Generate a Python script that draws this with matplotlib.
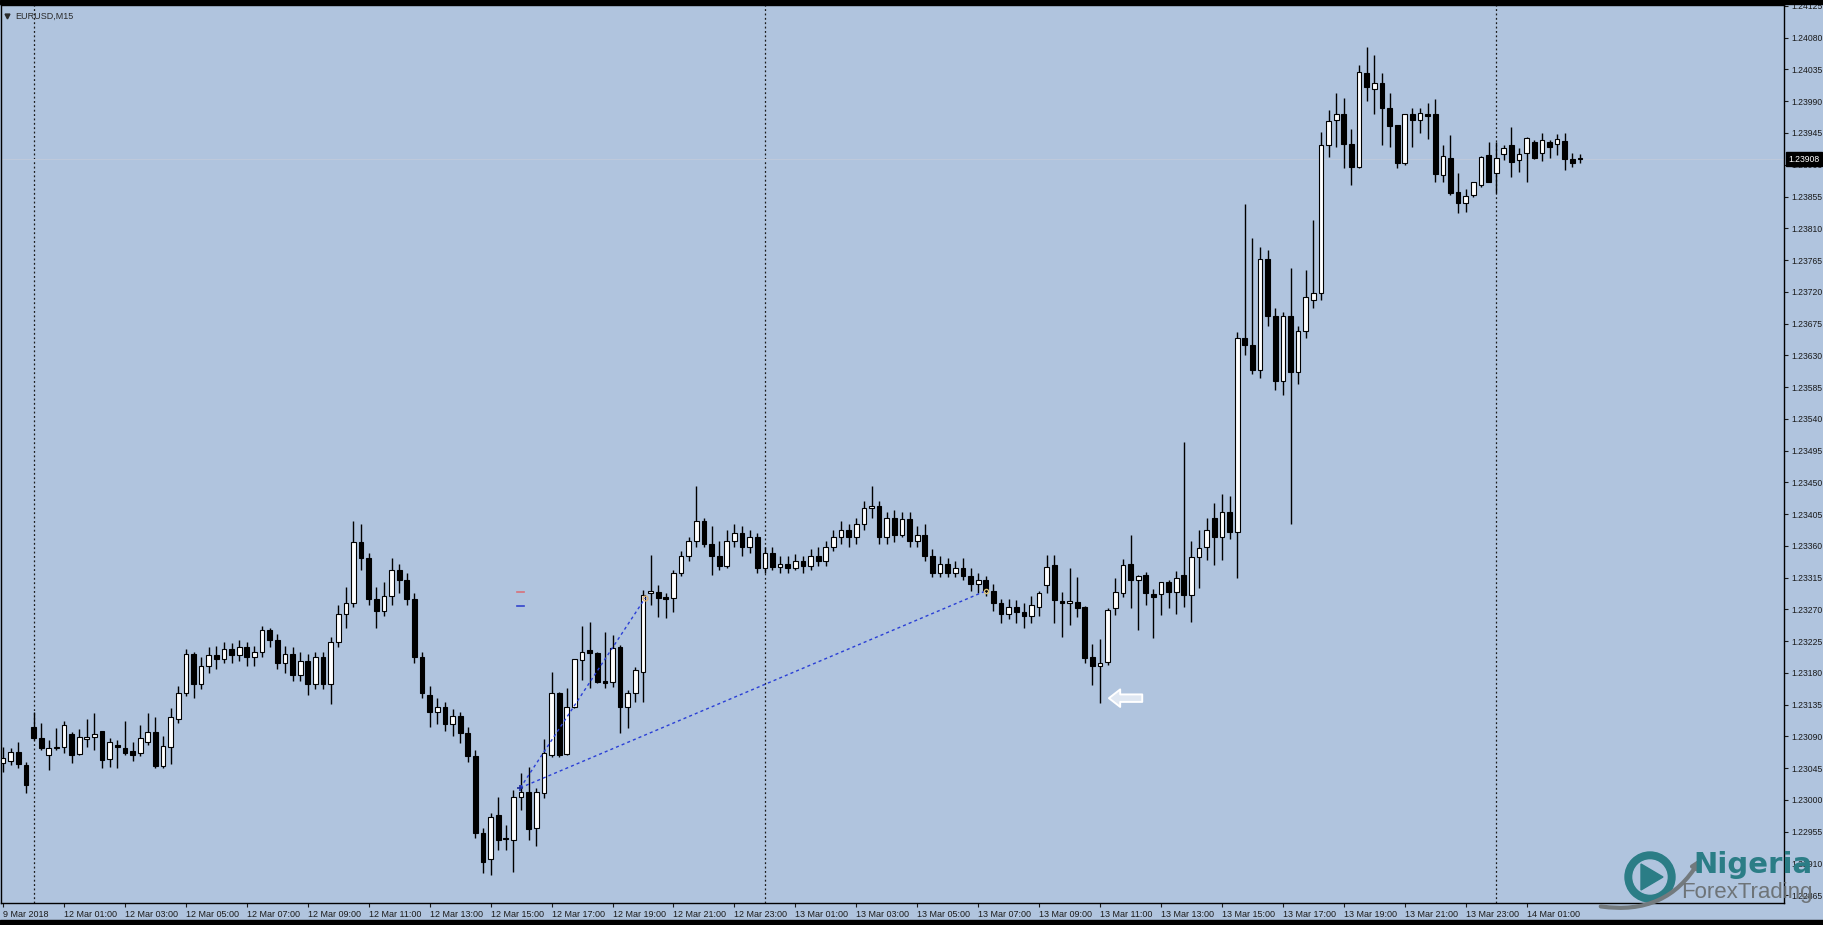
import numpy as np
import matplotlib
matplotlib.use("Agg")
import matplotlib.pyplot as plt
import matplotlib.transforms as mtransforms
from matplotlib.patches import Rectangle, Ellipse, Polygon, FancyArrowPatch

# EURUSD M15 candles, first bar = 9 Mar 23:00 (index -4), 12 Mar 00:00 = index 0
first_bar = -4
opens = [
    1.23052, 1.23055, 1.23068, 1.23049, 1.23103, 1.23088, 1.23063, 1.23073, 1.23075, 1.23093,
    1.23065, 1.23086, 1.23089, 1.23097, 1.23058, 1.23078, 1.23073, 1.23069, 1.23066, 1.23082,
    1.23096, 1.23048, 1.23075, 1.23114, 1.23152, 1.23207, 1.23164, 1.23190, 1.23205, 1.23200,
    1.23213, 1.23205, 1.23217, 1.23202, 1.23210, 1.23240, 1.23227, 1.23194, 1.23207, 1.23177,
    1.23197, 1.23164, 1.23202, 1.23164, 1.23223, 1.23263, 1.23279, 1.23365, 1.23342, 1.23284,
    1.23268, 1.23289, 1.23326, 1.23312, 1.23284, 1.23202, 1.23149, 1.23124, 1.23131, 1.23108,
    1.23119, 1.23095, 1.23062, 1.22953, 1.22916, 1.22978, 1.22946, 1.22943, 1.23004, 1.23011,
    1.22960, 1.23010, 1.23064, 1.23151, 1.23065, 1.23132, 1.23198, 1.23212, 1.23208, 1.23168,
    1.23167, 1.23217, 1.23132, 1.23151, 1.23181, 1.23293, 1.23295, 1.23288, 1.23286, 1.23321,
    1.23345, 1.23367, 1.23395, 1.23362, 1.23345, 1.23332, 1.23367, 1.23378, 1.23358, 1.23372,
    1.23329, 1.23350, 1.23330, 1.23334, 1.23329, 1.23339, 1.23332, 1.23345, 1.23339, 1.23358,
    1.23372, 1.23382, 1.23372, 1.23391, 1.23413, 1.23416, 1.23372, 1.23400, 1.23375, 1.23398,
    1.23367, 1.23375, 1.23345, 1.23322, 1.23334, 1.23322, 1.23329, 1.23317, 1.23306, 1.23312,
    1.23296, 1.23279, 1.23263, 1.23273, 1.23266, 1.23260, 1.23273, 1.23304, 1.23333, 1.23282,
    1.23279, 1.23280, 1.23273, 1.23202, 1.23190, 1.23195, 1.23272, 1.23293, 1.23334, 1.23312,
    1.23319, 1.23292, 1.23292, 1.23309, 1.23295, 1.23319, 1.23290, 1.23344, 1.23358, 1.23400,
    1.23372, 1.23408, 1.23380, 1.23655, 1.23645, 1.23609, 1.23767, 1.23685, 1.23593, 1.23685,
    1.23606, 1.23664, 1.23708, 1.23718, 1.23928, 1.23963, 1.23972, 1.23929, 1.23897, 1.24030,
    1.24007, 1.24016, 1.23980, 1.23956, 1.23902, 1.23972, 1.23963, 1.23972, 1.23972, 1.23886,
    1.23910, 1.23861, 1.23846, 1.23857, 1.23871, 1.23914, 1.23888, 1.23915, 1.23928, 1.23907,
    1.23917, 1.23932, 1.23917, 1.23932, 1.23929, 1.23934, 1.23908, 1.23910,
]
highs = [
    1.23075, 1.23073, 1.23082, 1.23054, 1.23124, 1.23109, 1.23085, 1.23102, 1.23112, 1.23096,
    1.23100, 1.23114, 1.23123, 1.23097, 1.23088, 1.23085, 1.23112, 1.23082, 1.23106, 1.23123,
    1.23117, 1.23090, 1.23130, 1.23161, 1.23213, 1.23210, 1.23202, 1.23217, 1.23218, 1.23223,
    1.23222, 1.23227, 1.23223, 1.23218, 1.23246, 1.23243, 1.23235, 1.23218, 1.23217, 1.23210,
    1.23207, 1.23210, 1.23210, 1.23230, 1.23276, 1.23301, 1.23395, 1.23391, 1.23350, 1.23301,
    1.23309, 1.23342, 1.23334, 1.23322, 1.23293, 1.23210, 1.23161, 1.23144, 1.23139, 1.23128,
    1.23124, 1.23103, 1.23070, 1.22960, 1.22981, 1.23004, 1.22964, 1.23014, 1.23038, 1.23046,
    1.23017, 1.23086, 1.23181, 1.23153, 1.23158, 1.23200, 1.23246, 1.23252, 1.23210, 1.23238,
    1.23234, 1.23219, 1.23156, 1.23188, 1.23297, 1.23347, 1.23304, 1.23293, 1.23326, 1.23352,
    1.23372, 1.23444, 1.23400, 1.23388, 1.23367, 1.23383, 1.23391, 1.23388, 1.23383, 1.23378,
    1.23358, 1.23358, 1.23345, 1.23345, 1.23349, 1.23345, 1.23355, 1.23358, 1.23367, 1.23383,
    1.23395, 1.23391, 1.23400, 1.23424, 1.23444, 1.23424, 1.23408, 1.23411, 1.23408, 1.23408,
    1.23388, 1.23391, 1.23355, 1.23345, 1.23342, 1.23339, 1.23342, 1.23329, 1.23322, 1.23317,
    1.23306, 1.23284, 1.23284, 1.23283, 1.23279, 1.23289, 1.23296, 1.23347, 1.23347, 1.23295,
    1.23329, 1.23316, 1.23274, 1.23221, 1.23228, 1.23272, 1.23314, 1.23341, 1.23375, 1.23318,
    1.23323, 1.23299, 1.23309, 1.23312, 1.23324, 1.23507, 1.23367, 1.23383, 1.23400, 1.23421,
    1.23433, 1.23430, 1.23663, 1.23845, 1.23796, 1.23784, 1.23779, 1.23697, 1.23692, 1.23754,
    1.23672, 1.23751, 1.23822, 1.23946, 1.23978, 1.24002, 1.23995, 1.23951, 1.24041, 1.24067,
    1.24056, 1.24030, 1.24002, 1.23956, 1.23972, 1.23980, 1.23980, 1.23988, 1.23993, 1.23928,
    1.23942, 1.23888, 1.23866, 1.23876, 1.23912, 1.23932, 1.23932, 1.23928, 1.23954, 1.23924,
    1.23939, 1.23935, 1.23945, 1.23935, 1.23944, 1.23945, 1.23917, 1.23915,
]
lows = [
    1.23039, 1.23049, 1.23045, 1.23010, 1.23085, 1.23071, 1.23042, 1.23071, 1.23066, 1.23052,
    1.23063, 1.23075, 1.23071, 1.23045, 1.23046, 1.23045, 1.23063, 1.23055, 1.23062, 1.23078,
    1.23045, 1.23045, 1.23051, 1.23109, 1.23147, 1.23144, 1.23157, 1.23180, 1.23185, 1.23194,
    1.23194, 1.23197, 1.23190, 1.23190, 1.23202, 1.23217, 1.23185, 1.23180, 1.23169, 1.23169,
    1.23149, 1.23157, 1.23157, 1.23136, 1.23217, 1.23243, 1.23273, 1.23326, 1.23276, 1.23243,
    1.23260, 1.23276, 1.23293, 1.23276, 1.23194, 1.23144, 1.23103, 1.23108, 1.23098, 1.23091,
    1.23081, 1.23053, 1.22946, 1.22896, 1.22893, 1.22929, 1.22929, 1.22898, 1.22985, 1.22943,
    1.22934, 1.23003, 1.23061, 1.23061, 1.23064, 1.23130, 1.23170, 1.23158, 1.23166, 1.23158,
    1.23160, 1.23095, 1.23102, 1.23139, 1.23139, 1.23276, 1.23259, 1.23258, 1.23266, 1.23317,
    1.23339, 1.23358, 1.23358, 1.23319, 1.23326, 1.23329, 1.23358, 1.23345, 1.23350, 1.23322,
    1.23322, 1.23326, 1.23322, 1.23322, 1.23326, 1.23322, 1.23326, 1.23332, 1.23332, 1.23352,
    1.23362, 1.23358, 1.23362, 1.23382, 1.23400, 1.23362, 1.23362, 1.23365, 1.23372, 1.23358,
    1.23358, 1.23339, 1.23316, 1.23316, 1.23316, 1.23316, 1.23312, 1.23296, 1.23293, 1.23289,
    1.23268, 1.23251, 1.23256, 1.23251, 1.23243, 1.23251, 1.23260, 1.23293, 1.23251, 1.23231,
    1.23248, 1.23259, 1.23194, 1.23163, 1.23137, 1.23191, 1.23262, 1.23287, 1.23272, 1.23241,
    1.23276, 1.23229, 1.23262, 1.23272, 1.23263, 1.23273, 1.23252, 1.23300, 1.23340, 1.23333,
    1.23340, 1.23370, 1.23314, 1.23631, 1.23603, 1.23598, 1.23672, 1.23581, 1.23573, 1.23391,
    1.23589, 1.23655, 1.23697, 1.23708, 1.23911, 1.23925, 1.23895, 1.23871, 1.23895, 1.23990,
    1.23972, 1.23928, 1.23925, 1.23895, 1.23900, 1.23925, 1.23945, 1.23937, 1.23876, 1.23876,
    1.23857, 1.23832, 1.23833, 1.23854, 1.23869, 1.23876, 1.23860, 1.23907, 1.23883, 1.23890,
    1.23876, 1.23908, 1.23905, 1.23910, 1.23914, 1.23893, 1.23897, 1.23903,
]
closes = [
    1.23059, 1.23068, 1.23051, 1.23021, 1.23088, 1.23073, 1.23073, 1.23075, 1.23106, 1.23063,
    1.23089, 1.23089, 1.23093, 1.23056, 1.23082, 1.23075, 1.23066, 1.23063, 1.23088, 1.23096,
    1.23048, 1.23076, 1.23117, 1.23152, 1.23207, 1.23164, 1.23190, 1.23205, 1.23200, 1.23213,
    1.23205, 1.23217, 1.23202, 1.23210, 1.23240, 1.23227, 1.23194, 1.23207, 1.23177, 1.23197,
    1.23164, 1.23202, 1.23164, 1.23223, 1.23263, 1.23279, 1.23365, 1.23342, 1.23284, 1.23268,
    1.23289, 1.23326, 1.23312, 1.23284, 1.23202, 1.23152, 1.23124, 1.23131, 1.23108, 1.23119,
    1.23095, 1.23062, 1.22953, 1.22912, 1.22976, 1.22943, 1.22944, 1.23004, 1.23011, 1.22959,
    1.23011, 1.23066, 1.23151, 1.23064, 1.23132, 1.23200, 1.23209, 1.23208, 1.23167, 1.23166,
    1.23215, 1.23132, 1.23151, 1.23184, 1.23290, 1.23296, 1.23286, 1.23285, 1.23321, 1.23345,
    1.23367, 1.23395, 1.23362, 1.23345, 1.23332, 1.23367, 1.23378, 1.23358, 1.23372, 1.23329,
    1.23350, 1.23330, 1.23334, 1.23329, 1.23339, 1.23332, 1.23345, 1.23339, 1.23358, 1.23372,
    1.23382, 1.23372, 1.23391, 1.23413, 1.23416, 1.23372, 1.23400, 1.23375, 1.23398, 1.23367,
    1.23375, 1.23345, 1.23322, 1.23334, 1.23322, 1.23329, 1.23317, 1.23306, 1.23312, 1.23296,
    1.23279, 1.23263, 1.23273, 1.23266, 1.23260, 1.23276, 1.23293, 1.23330, 1.23283, 1.23279,
    1.23282, 1.23272, 1.23201, 1.23190, 1.23194, 1.23269, 1.23295, 1.23333, 1.23312, 1.23317,
    1.23293, 1.23287, 1.23309, 1.23295, 1.23314, 1.23290, 1.23344, 1.23357, 1.23383, 1.23372,
    1.23408, 1.23380, 1.23655, 1.23645, 1.23609, 1.23767, 1.23685, 1.23593, 1.23685, 1.23606,
    1.23664, 1.23713, 1.23718, 1.23928, 1.23962, 1.23972, 1.23929, 1.23897, 1.24032, 1.24010,
    1.24016, 1.23980, 1.23955, 1.23903, 1.23972, 1.23963, 1.23973, 1.23969, 1.23887, 1.23912,
    1.23860, 1.23846, 1.23856, 1.23876, 1.23911, 1.23876, 1.23910, 1.23924, 1.23904, 1.23915,
    1.23938, 1.23910, 1.23935, 1.23925, 1.23937, 1.23908, 1.23903, 1.23908,
]

xtick_bars = [-4, 4, 12, 20, 28, 36, 44, 52, 60, 68, 76, 84, 92,
              100, 108, 116, 124, 132, 140, 148, 156, 164, 172, 180, 188, 196]
xtick_labels = ['9 Mar 2018', '12 Mar 01:00', '12 Mar 03:00', '12 Mar 05:00', '12 Mar 07:00',
                '12 Mar 09:00', '12 Mar 11:00', '12 Mar 13:00', '12 Mar 15:00', '12 Mar 17:00',
                '12 Mar 19:00', '12 Mar 21:00', '12 Mar 23:00', '13 Mar 01:00', '13 Mar 03:00',
                '13 Mar 05:00', '13 Mar 07:00', '13 Mar 09:00', '13 Mar 11:00', '13 Mar 13:00',
                '13 Mar 15:00', '13 Mar 17:00', '13 Mar 19:00', '13 Mar 21:00', '13 Mar 23:00',
                '14 Mar 01:00']
ytick_values = [1.22865, 1.22910, 1.22955, 1.23000, 1.23045, 1.23090, 1.23135, 1.23180,
                1.23225, 1.23270, 1.23315, 1.23360, 1.23405, 1.23450, 1.23495, 1.23540,
                1.23585, 1.23630, 1.23675, 1.23720, 1.23765, 1.23810, 1.23855, 1.23900,
                1.23945, 1.23990, 1.24035, 1.24080, 1.24125]
separator_bars = [0, 96, 192]
bid_price = 1.23908

# objects drawn on the chart
trend_start = (63.9, 1.23017)
trend_ends = [(125.0, 1.23296), (80.3, 1.23286)]
level_marks = [(1.23295, '#d8707a'), (1.23275, '#3344cc')]
arrow_tip = (140.8, 1.23144)
arrow_tail = (145.9, 1.23144)

bg = '#b0c4de'
fig = plt.figure(figsize=(18.24, 9.25), dpi=100, facecolor=bg)
ax = fig.add_axes([0.00055, 0.02378, 0.97752, 0.97081], facecolor=bg)

o = np.array(opens)
h = np.array(highs)
l = np.array(lows)
c = np.array(closes)
x = np.arange(first_bar, first_bar + len(o))
up = c >= o
lo = np.minimum(o, c)
ht = np.maximum(np.abs(c - o), 0.000004)

ax.vlines(x, l, h, color='black', lw=1.0, zorder=3)
ax.bar(x[up], ht[up], bottom=lo[up], width=0.62, color='white', edgecolor='black', linewidth=0.8, zorder=4)
ax.bar(x[~up], ht[~up], bottom=lo[~up], width=0.62, color='black', edgecolor='black', linewidth=0.8, zorder=4)

for b in separator_bars:
    ax.axvline(b, color='#1a1a1a', ls=(0, (1.5, 2.0)), lw=0.9, zorder=1)
ax.axhline(bid_price, color='#bfcadb', lw=0.7, zorder=1)

# trend lines
for ex, ey in trend_ends:
    ax.plot([trend_start[0], ex], [trend_start[1], ey], color='#2a3fd6', ls=(0, (2.2, 2.2)), lw=1.0, zorder=5)
ax.plot(*trend_start, marker='+', ms=5, color='#1a2a9a', mew=1.2, zorder=6)
ax.plot(*trend_ends[1], marker='o', ms=3.5, mfc='none', mec='#d9b27a', mew=1, zorder=6)
ax.plot(*trend_ends[0], marker='o', ms=3, mfc='none', mec='#d9c27a', mew=1, zorder=6)
for price, col in level_marks:
    ax.plot([63.4, 64.4], [price, price], color=col, lw=1.2, zorder=5)

ax.annotate('', xy=arrow_tip, xytext=arrow_tail,
            arrowprops=dict(arrowstyle='simple,head_length=0.9,head_width=1.4,tail_width=0.6',
                            mutation_scale=9, fc='#dfe7f2', ec='white', lw=1.4), zorder=6)

ax.set_xlim(-4.27, 229.78)
ax.set_ylim(1.228537, 1.241264)

ax.set_xticks(xtick_bars)
ax.set_xticklabels(xtick_labels, ha='left', fontsize=6.5, family='Liberation Sans', color='#1a1a1a')
ax.tick_params(axis='x', direction='out', length=3, width=0.8, pad=2, colors='#1a1a1a')
ax.yaxis.tick_right()
ax.set_yticks(ytick_values)
ax.set_yticklabels(['%.5f' % v for v in ytick_values], fontsize=6.2, family='Liberation Sans', color='#1a1a1a')
ax.tick_params(axis='y', direction='out', length=3, width=0.8, pad=2, colors='#1a1a1a')
for s in ax.spines.values():
    s.set_color('black')
    s.set_linewidth(1.0)

# current price tag
trans = mtransforms.blended_transform_factory(ax.transAxes, ax.transData)
ax.text(1.0025, bid_price, '%.5f' % bid_price, transform=trans, ha='left', va='center', fontsize=6.2,
        family='Liberation Sans', color='white', clip_on=False, zorder=10,
        bbox=dict(boxstyle='square,pad=0.25', fc='black', ec='black'))

# symbol label
ax.plot([0.0036], [0.9878], marker='v', ms=3.5, color='#2a2a2a', transform=ax.transAxes, clip_on=False)
ax.text(0.0082, 0.9878, 'EURUSD,M15', transform=ax.transAxes, ha='left', va='center',
        fontsize=6.5, family='Liberation Sans', color='#2a2a2a')

# window edges
fig.add_artist(Rectangle((0, 1 - 4 / 925), 1, 4 / 925, transform=fig.transFigure, color='black', zorder=30))
fig.add_artist(Rectangle((0, 0), 1, 5 / 925, transform=fig.transFigure, color='black', zorder=30))

# watermark logo
W, H = 1824.0, 925.0
teal = '#2b7d86'
fig.add_artist(Ellipse((1650 / W, 1 - 877 / H), 50 / W, 50 / H, transform=fig.transFigure, color=teal, zorder=20))
fig.add_artist(Ellipse((1650 / W, 1 - 877 / H), 34 / W, 34 / H, transform=fig.transFigure, color=bg, zorder=21))
fig.add_artist(Polygon([(1641 / W, 1 - 864 / H), (1641 / W, 1 - 890 / H), (1663 / W, 1 - 877 / H)],
                       closed=True, transform=fig.transFigure, color=teal, zorder=22))
fig.add_artist(FancyArrowPatch((1598 / W, 1 - 906 / H), (1702 / W, 1 - 856 / H), transform=fig.transFigure,
                               connectionstyle='arc3,rad=0.35', arrowstyle='-|>', mutation_scale=12,
                               color='#737a7e', lw=3, zorder=23))
fig.text(1693 / W, 1 - 873 / H, 'Nigeria', fontsize=21, weight='bold', color=teal,
         family='DejaVu Sans', va='baseline', zorder=24)
fig.text(1681 / W, 1 - 898 / H, 'ForexTrading', fontsize=16, color='#6e7478',
         family='Liberation Sans', va='baseline', zorder=24)

fig.savefig('out.png', dpi=100, facecolor=bg)
